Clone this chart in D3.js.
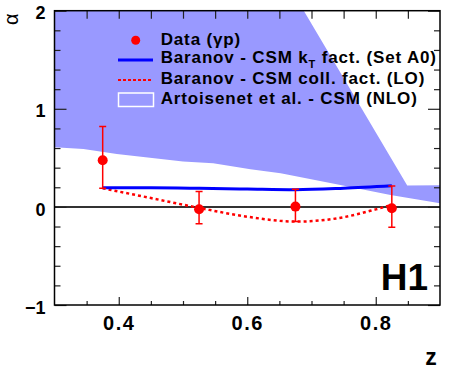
<!DOCTYPE html>
<html>
<head>
<meta charset="utf-8">
<script src="https://cdn.jsdelivr.net/npm/d3@7/dist/d3.min.js"></script>
<style>
  html, body { margin: 0; padding: 0; background: #fff; }
  svg { display: block; }
  text { font-family: "Liberation Sans", Arial, Helvetica, sans-serif; font-weight: bold; fill: #000; }
</style>
</head>
<body>
<svg id="chart" width="454" height="378"></svg>
<script>
// ---------------- data ----------------
const dataZ    = [0.375, 0.525, 0.675, 0.825];
const dataA    = [0.476, -0.024, 0.003, -0.013];
const dataErrLo = [0.19, -0.173, -0.15, -0.207];
const dataErrHi = [0.82, 0.156, 0.18, 0.214];

const ktZ = [0.375, 0.45, 0.525, 0.6, 0.675, 0.75, 0.825];
const ktA = [0.195, 0.195, 0.19, 0.182, 0.175, 0.19, 0.215];

const loZ = [0.375, 0.45, 0.525, 0.6, 0.675, 0.75, 0.8, 0.825];
const loA = [0.19, 0.09, -0.01, -0.10, -0.15, -0.105, -0.025, 0.02];

const bandLowZ = [0.3, 0.345, 0.397, 0.5, 0.547, 0.605, 0.652, 0.745, 0.823, 0.9];
const bandLow  = [0.607, 0.589, 0.538, 0.462, 0.446, 0.385, 0.344, 0.224, 0.122, 0.038];
const bandHighZ = [0.3, 0.65, 0.849, 0.9];
const bandHigh  = [2.6, 2.42, 0.217, 0.22];

const xMajorTicks = [0.4, 0.6, 0.8];
const xMinorTicks = [0.35, 0.45, 0.5, 0.55, 0.65, 0.7, 0.75, 0.85];
const yMajorTicks = [-1, 0, 1, 2];
const yMinorTicks = [-0.8, -0.6, -0.4, -0.2, 0.2, 0.4, 0.6, 0.8, 1.2, 1.4, 1.6, 1.8];

const legendLabels = ["Data (\u03b3p)", "Baranov - CSM k", "Baranov - CSM coll. fact. (LO)", "Artoisenet et al. - CSM (NLO)"];

// ---------------- layout ----------------
const L = 54.5, R = 440, T = 10.7, B = 305;
const svg = d3.select("#chart");
const x = d3.scaleLinear().domain([0.3, 0.9]).range([L, R]);
const y = d3.scaleLinear().domain([-1, 2]).range([B, T]);

svg.append("defs").append("clipPath").attr("id", "clip")
  .append("rect").attr("x", L).attr("y", T).attr("width", R - L).attr("height", B - T);

const plot = svg.append("g").attr("clip-path", "url(#clip)");

// band
const bandPts = bandHighZ.map((z, i) => [z, bandHigh[i]])
  .concat(bandLowZ.map((z, i) => [z, bandLow[i]]).reverse());
plot.append("path")
  .attr("d", d3.line().x(d => x(d[0])).y(d => y(d[1]))(bandPts) + "Z")
  .attr("fill", "#9999ff").attr("stroke", "none");

// zero line
plot.append("line").attr("x1", x(0.3)).attr("x2", x(0.9)).attr("y1", y(0)).attr("y2", y(0))
  .attr("stroke", "#333").attr("stroke-width", 2);

// LO dotted line
plot.append("path")
  .attr("d", d3.line().curve(d3.curveMonotoneX).x((d, i) => x(loZ[i])).y((d, i) => y(loA[i]))(loZ))
  .attr("fill", "none").attr("stroke", "#ff0000").attr("stroke-width", 2.5)
  .attr("stroke-dasharray", "3,3");

// kT line
plot.append("path")
  .attr("d", d3.line().curve(d3.curveMonotoneX).x((d, i) => x(ktZ[i])).y((d, i) => y(ktA[i]))(ktZ))
  .attr("fill", "none").attr("stroke", "#0000ff").attr("stroke-width", 3);

// data error bars
const pts = plot.append("g");
dataZ.forEach((z, i) => {
  const cx = x(z);
  pts.append("line").attr("x1", cx).attr("x2", cx).attr("y1", y(dataErrLo[i])).attr("y2", y(dataErrHi[i]))
    .attr("stroke", "#ff0000").attr("stroke-width", 1.5);
  [dataErrLo[i], dataErrHi[i]].forEach(v => {
    pts.append("line").attr("x1", cx - 3.5).attr("x2", cx + 3.5).attr("y1", y(v)).attr("y2", y(v))
      .attr("stroke", "#ff0000").attr("stroke-width", 1.5);
  });
  pts.append("circle").attr("cx", cx).attr("cy", y(dataA[i])).attr("r", 5).attr("fill", "#ff0000");
});

// ---------------- axes ----------------
function styleAxis(g) {
  g.select(".domain").remove();
  g.selectAll(".tick line").attr("stroke", "#222").attr("stroke-width", 1.2);
}
svg.append("g").attr("transform", `translate(0,${B})`)
  .call(d3.axisBottom(x).tickValues(xMinorTicks).tickSize(-4).tickFormat(""))
  .call(styleAxis);
svg.append("g").attr("transform", `translate(0,${B})`)
  .call(d3.axisBottom(x).tickValues(xMajorTicks).tickSize(-8).tickPadding(11).tickFormat(d3.format(".1f")))
  .call(styleAxis)
  .call(g => g.selectAll("text").style("font-size", "20px").style("font-weight", "bold")
    .style("letter-spacing", "1.5px").attr("fill", "#000"));
svg.append("g").attr("transform", `translate(0,${T})`)
  .call(d3.axisTop(x).tickValues(xMinorTicks.concat(xMajorTicks)).tickSize(-8).tickFormat(""))
  .call(styleAxis);

svg.append("g").attr("transform", `translate(${L},0)`)
  .call(d3.axisLeft(y).tickValues(yMinorTicks).tickSize(-6).tickFormat(""))
  .call(styleAxis);
svg.append("g").attr("transform", `translate(${L},0)`)
  .call(d3.axisLeft(y).tickValues(yMajorTicks).tickSize(-12).tickPadding(9).tickFormat(d3.format("d")))
  .call(styleAxis)
  .call(g => g.selectAll("text").style("font-size", "18px").style("font-weight", "bold").attr("fill", "#000").attr("dy", "0.45em"));
svg.append("g").attr("transform", `translate(${R},0)`)
  .call(d3.axisRight(y).tickValues(yMinorTicks).tickSize(-6).tickFormat(""))
  .call(styleAxis);
svg.append("g").attr("transform", `translate(${R},0)`)
  .call(d3.axisRight(y).tickValues(yMajorTicks).tickSize(-12).tickFormat(""))
  .call(styleAxis);

// frame
svg.append("rect").attr("x", L).attr("y", T).attr("width", R - L).attr("height", B - T)
  .attr("fill", "none").attr("stroke", "#000").attr("stroke-width", 1.5);

// axis titles
svg.append("text").attr("x", 431).attr("y", 365).attr("text-anchor", "middle")
  .style("font-size", "23px").text("z");
svg.append("text").attr("transform", "translate(18,25) rotate(-90)").attr("text-anchor", "start")
  .style("font-size", "20px").style("font-weight", "normal").text("\u03b1");

// H1
svg.append("text").attr("x", 428).attr("y", 290).attr("text-anchor", "end")
  .style("font-size", "37px").text("H1");

// ---------------- legend ----------------
const lg = svg.append("g");
const lx = 160.7, ly = [45, 63.3, 84, 104.3];
lg.append("circle").attr("cx", 135.7).attr("cy", 40.3).attr("r", 4.5).attr("fill", "#ff0000");
lg.append("line").attr("x1", 118).attr("x2", 153).attr("y1", 60).attr("y2", 60)
  .attr("stroke", "#0000ff").attr("stroke-width", 3);
lg.append("line").attr("x1", 118).attr("x2", 153).attr("y1", 80).attr("y2", 80)
  .attr("stroke", "#ff0000").attr("stroke-width", 2).attr("stroke-dasharray", "3,2");
lg.append("rect").attr("x", 118.5).attr("y", 93).attr("width", 35).attr("height", 13.5)
  .attr("fill", "#9999ff").attr("stroke", "#fff").attr("stroke-width", 1.5);

legendLabels.forEach((t, i) => {
  const tx = lg.append("text").attr("x", lx).attr("y", ly[i]).style("font-size", "17px")
    .style("letter-spacing", "0.85px");
  tx.append("tspan").text(t);
  if (i === 1) {
    tx.append("tspan").attr("dy", 5).style("font-size", "11px").text("T");
    tx.append("tspan").attr("dy", -5).text(" fact. (Set A0)");
  }
});
</script>
</body>
</html>
